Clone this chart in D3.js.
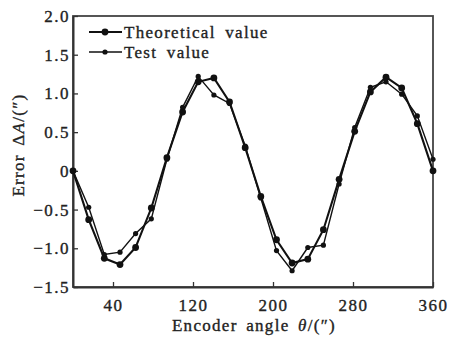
<!DOCTYPE html>
<html>
<head>
<meta charset="utf-8">
<script src="https://cdn.jsdelivr.net/npm/d3@7"></script>
<style>
  body { margin: 0; background: #fff; }
  svg { display: block; }
</style>
</head>
<body>
<svg width="451" height="337"></svg>
<script>
// encoder angle (") and error values
var angles = [0, 15.7, 31.3, 47, 62.6, 78.3, 93.9, 109.6, 125.2, 140.9, 156.5, 172.2,
              187.8, 203.5, 219.1, 234.8, 250.4, 266.1, 281.7, 297.4, 313, 328.7, 344.3, 360];
var theoretical = [0, -0.63, -1.13, -1.21, -0.99, -0.48, 0.17, 0.76, 1.15, 1.20, 0.89, 0.30,
                   -0.33, -0.89, -1.19, -1.14, -0.76, -0.11, 0.51, 1.02, 1.21, 1.07, 0.61, 0];
var test = [0, -0.47, -1.08, -1.05, -0.81, -0.62, 0.15, 0.82, 1.22, 0.98, 0.87, 0.32,
            -0.35, -1.03, -1.29, -0.99, -0.96, -0.17, 0.56, 1.08, 1.15, 0.99, 0.71, 0.15];
var xTicks = [40, 120, 200, 280, 360];
var yTicks = [2.0, 1.5, 1.0, 0.5, 0, -0.5, -1.0, -1.5];
var seriesNames = ["Theoretical value", "Test value"];

var FONT = "'Liberation Serif', 'Times New Roman', serif";

var svg = d3.select("svg"),
    margin = {top: 16, right: 18, bottom: 50, left: 73},
    width = svg.attr("width") - margin.left - margin.right,
    height = svg.attr("height") - margin.top - margin.bottom,
    g = svg.append("g").attr("transform", "translate(" + margin.left + "," + margin.top + ")");

var x = d3.scaleLinear().domain([0, 360]).range([0, width]),
    y = d3.scaleLinear().domain([-1.5, 2.0]).range([height, 0]);

var series = [
    {name: seriesNames[0], values: theoretical, r: 3.4, w: 2.1},
    {name: seriesNames[1], values: test, r: 2.6, w: 1.4}
];

var line = d3.line()
    .x(function(d) { return x(d[0]); })
    .y(function(d) { return y(d[1]); });

function fmtY(v) {
    if (v === 0) return "0";
    return (v < 0 ? "\u2212" : "") + Math.abs(v).toFixed(1);
}

// scanned-looking text: a touch of stroke thickens the glyphs
function inkText(sel) {
    sel.attr("font-family", FONT)
        .attr("font-size", 17)
        .attr("fill", "#222")
        .attr("stroke", "#222")
        .attr("stroke-width", 0.35)
        .attr("letter-spacing", 1.3);
    return sel;
}

// frame
g.append("rect")
    .attr("width", width)
    .attr("height", height)
    .attr("fill", "none")
    .attr("stroke", "#444")
    .attr("stroke-width", 1.8);

// x axis, ticks pointing inward
var xAxis = g.append("g")
    .attr("transform", "translate(0," + height + ")")
    .call(d3.axisBottom(x).tickValues(xTicks).tickSizeInner(-5).tickSizeOuter(0).tickPadding(10));
xAxis.select(".domain").attr("stroke", "#333").attr("stroke-width", 2);
xAxis.selectAll(".tick line").attr("stroke", "#333").attr("stroke-width", 1.3);
xAxis.selectAll(".tick text")
    .call(inkText)
    .attr("letter-spacing", 1.5)
    .attr("dy", "0.85em");

// y axis
var yAxis = g.append("g")
    .call(d3.axisLeft(y).tickValues(yTicks).tickFormat(fmtY).tickSizeInner(-5).tickSizeOuter(0).tickPadding(3));
yAxis.select(".domain").attr("stroke", "#333").attr("stroke-width", 2);
yAxis.selectAll(".tick line").attr("stroke", "#333").attr("stroke-width", 1.3);
yAxis.selectAll(".tick text")
    .call(inkText)
    .attr("letter-spacing", 1.5);

// lines and markers
var s = g.selectAll(".series")
    .data(series)
    .enter().append("g")
    .attr("class", "series");

s.append("path")
    .attr("fill", "none")
    .attr("stroke", "#111")
    .attr("stroke-width", function(d) { return d.w; })
    .attr("d", function(d) {
        return line(d.values.map(function(v, i) { return [angles[i], v]; }));
    });

s.selectAll("circle")
    .data(function(d) {
        return d.values.map(function(v, i) { return {a: angles[i], v: v, r: d.r}; });
    })
    .enter().append("circle")
    .attr("cx", function(d) { return x(d.a); })
    .attr("cy", function(d) { return y(d.v); })
    .attr("r", function(d) { return d.r; })
    .attr("fill", "#111");

// legend
var legend = g.selectAll(".legend")
    .data(series)
    .enter().append("g")
    .attr("class", "legend")
    .attr("transform", function(d, i) { return "translate(16," + (16 + i * 20) + ")"; });

legend.append("line")
    .attr("x1", 0).attr("x2", 33)
    .attr("stroke", "#111")
    .attr("stroke-width", function(d) { return d.w; });

legend.append("circle")
    .attr("cx", 16)
    .attr("r", function(d) { return d.r; })
    .attr("fill", "#111");

legend.append("text")
    .attr("x", 35)
    .attr("dy", "0.35em")
    .call(inkText)
    .attr("word-spacing", 4)
    .text(function(d) { return d.name; });

// axis titles
var xTitle = svg.append("text")
    .attr("x", 254)
    .attr("y", 331)
    .attr("text-anchor", "middle")
    .call(inkText)
    .attr("word-spacing", 3);
xTitle.append("tspan").text("Encoder angle ");
xTitle.append("tspan").attr("font-style", "italic").text("\u03b8");
xTitle.append("tspan").text("/(\u2033)");

var yTitle = svg.append("text")
    .attr("transform", "translate(24,145) rotate(-90)")
    .attr("text-anchor", "middle")
    .call(inkText)
    .attr("word-spacing", 3);
yTitle.append("tspan").text("Error \u0394");
yTitle.append("tspan").attr("font-style", "italic").text("A");
yTitle.append("tspan").text("/(\u2033)");
</script>
</body>
</html>
